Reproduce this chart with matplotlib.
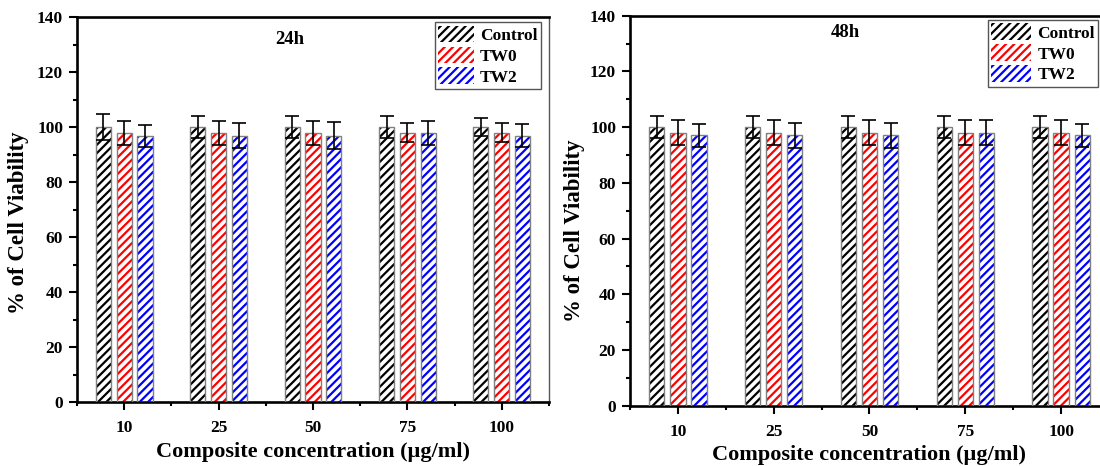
#!/usr/bin/env python3

# Cell viability bar charts, 24h and 48h

import numpy as np
import matplotlib
matplotlib.use('Agg')
import matplotlib.pyplot as plt
from matplotlib.ticker import MultipleLocator, FixedLocator

plt.rcParams['font.family'] = ['Liberation Serif', 'DejaVu Serif']
plt.rcParams['font.weight'] = 'bold'
plt.rcParams['hatch.linewidth'] = 1.6

concentrations = ['10', '25', '50', '75', '100']
series = ['Control', 'TW0', 'TW2']
hatch_colors = ['black', '#ff0000', '#0000ff']

# 24h
control_24 = [100, 100, 100, 100, 100]
tw0_24 = [98, 98, 98, 98, 98]
tw2_24 = [97, 97, 97, 98, 97]
control_24_err = [4.8, 4.0, 4.0, 4.0, 3.3]
tw0_24_err = [4.4, 4.4, 4.4, 3.4, 3.4]
tw2_24_err = [4.0, 4.7, 4.8, 4.3, 4.3]

# 48h
control_48 = [100, 100, 100, 100, 100]
tw0_48 = [98, 98, 98, 98, 98]
tw2_48 = [97, 97, 97, 98, 97]
control_48_err = [4.0, 4.0, 4.0, 4.0, 4.0]
tw0_48_err = [4.5, 4.5, 4.5, 4.5, 4.5]
tw2_48_err = [4.2, 4.6, 4.6, 4.5, 4.2]

HATCH = '////'


def draw_panel(ax, vals, errs, title, title_y, leg_anchor, leg_loc, leg_hlen,
               ylab_xy, xlab_y):
    x = np.arange(len(concentrations))
    offsets = [-0.22, 0.0, 0.22]
    width = 0.16
    handles = []
    for i in range(3):
        xs = x + offsets[i]
        # hatched fill, hatch colour comes from edgecolor
        ax.bar(xs, vals[i], width, color='white', edgecolor=hatch_colors[i],
               hatch=HATCH, linewidth=0, zorder=2)
        # grey outline on top
        ax.bar(xs, vals[i], width, fill=False, edgecolor='#808080',
               linewidth=1.0, zorder=3)
        ax.errorbar(xs, vals[i], yerr=errs[i], fmt='none', ecolor='black',
                    elinewidth=1.2, capsize=5, capthick=1.2, zorder=4)
        h = plt.Rectangle((0, 0), 1, 1, facecolor='white',
                          edgecolor=hatch_colors[i], hatch=HATCH, linewidth=0)
        handles.append(h)

    ax.set_xlim(-0.5, len(concentrations) - 0.5)
    ax.set_ylim(0, 140)
    ax.set_xticks(x)
    ax.set_xticklabels(concentrations)
    ax.xaxis.set_minor_locator(FixedLocator(np.arange(-0.5, len(concentrations), 1.0)))
    ax.yaxis.set_major_locator(MultipleLocator(20))
    ax.yaxis.set_minor_locator(MultipleLocator(10))
    ax.tick_params(which='major', direction='out', length=6, width=1.5,
                   labelsize=12.5, pad=4)
    ax.tick_params(axis='x', which='major', pad=7)
    ax.tick_params(which='minor', direction='out', length=3, width=1.5)
    ax.tick_params(top=False, right=False)
    for lab in ax.get_xticklabels() + ax.get_yticklabels():
        lab.set_fontweight('bold')

    for s in ['left', 'bottom', 'top']:
        ax.spines[s].set_linewidth(1.9)
    ax.spines['right'].set_linewidth(1.0)
    ax.spines['right'].set_color('#555555')

    ax.text(1.75, title_y, title, ha='center', va='center', fontsize=13.5,
            fontweight='bold')

    ax.set_ylabel('% of Cell Viability', fontsize=16.5, fontweight='bold', va='center')
    ax.yaxis.set_label_coords(ylab_xy[0], ylab_xy[1])
    ax.set_xlabel('Composite concentration (\u00b5g/ml)', fontsize=16,
                  fontweight='bold', va='center')
    ax.xaxis.set_label_coords(0.5, xlab_y)

    leg = ax.legend(handles, series, loc=leg_loc, bbox_to_anchor=leg_anchor,
                    borderaxespad=0, fontsize=12.5, handlelength=leg_hlen,
                    handleheight=1.1, labelspacing=0.15, handletextpad=0.35,
                    borderpad=0.2, fancybox=False, framealpha=1,
                    edgecolor='#555555')
    leg.get_frame().set_linewidth(1.0)
    for t in leg.get_texts():
        t.set_fontweight('bold')


fig = plt.figure(figsize=(11, 4.66), dpi=100, facecolor='white')

ax1 = fig.add_axes([0.07, 0.1367, 0.429, 0.8262])
draw_panel(ax1, [control_24, tw0_24, tw2_24],
           [control_24_err, tw0_24_err, tw2_24_err],
           '24h', 132, (0.983, 0.987), 'upper right', 2.05,
           (-0.125, 0.466), -0.129)

ax2 = fig.add_axes([0.5727, 0.1294, 0.4355, 0.8369])
draw_panel(ax2, [control_48, tw0_48, tw2_48],
           [control_48_err, tw0_48_err, tw2_48_err],
           '48h', 134, (0.747, 0.989), 'upper left', 2.3,
           (-0.115, 0.45), -0.126)

plt.savefig('out.png', dpi=100)
